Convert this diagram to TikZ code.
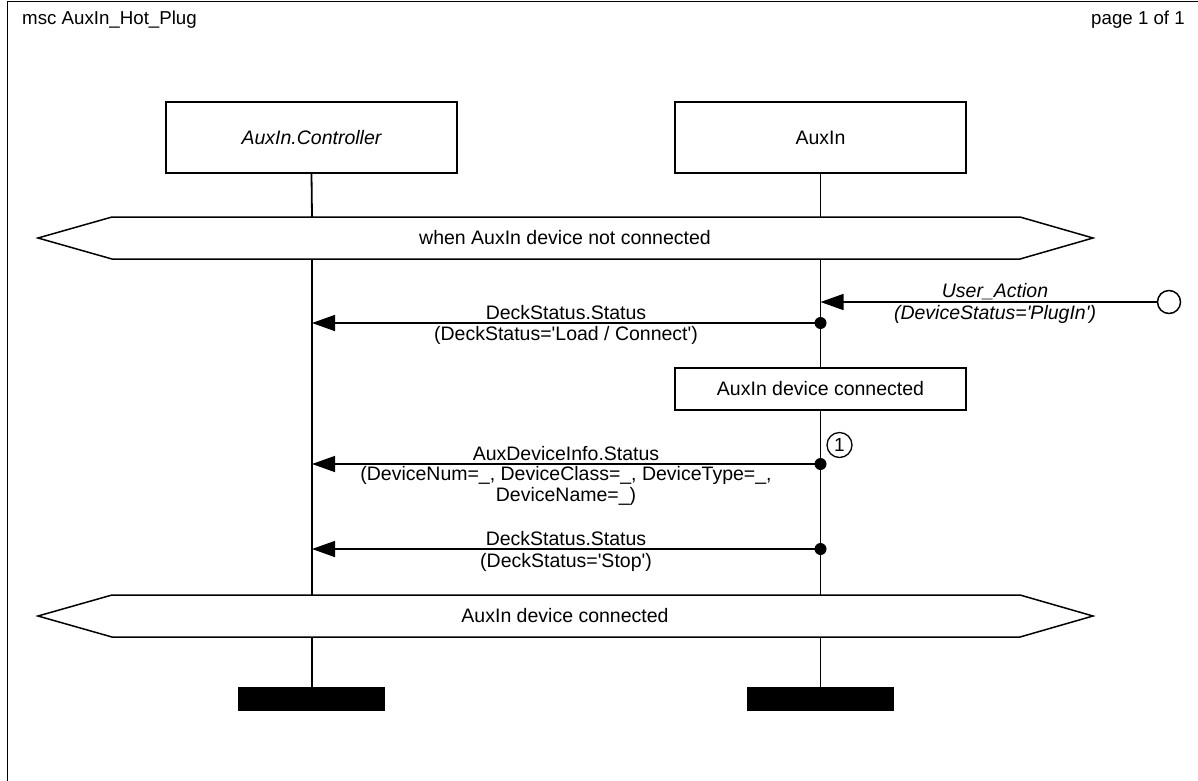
\documentclass[tikz,border=0pt]{standalone}
\usepackage{fontspec}
\setmainfont{Liberation Sans}[Ligatures=TeXOff]
\usetikzlibrary{arrows.meta}

\begin{document}
\begin{tikzpicture}[x=1pt,y=-1pt,
  txt/.style={font=\fontsize{19.5}{21}\selectfont, inner sep=0pt},
  headtxt/.style={font=\fontsize{18.7}{21}\selectfont, inner sep=0pt},
  lbl/.style={txt, align=center},
  instbox/.style={draw, line width=1.5pt, fill=white, minimum width=291pt, minimum height=71pt, inner sep=0pt, txt},
  actbox/.style={draw, line width=1.5pt, fill=white, minimum width=291pt, minimum height=42pt, inner sep=0pt, txt},
  life/.style={line width=1.8pt},
  cond/.style={draw, line width=1.5pt, fill=white, line join=miter},
  msg/.style={line width=1.5pt, -{Triangle[length=23pt, width=16pt]}},
  dotnode/.style={circle, fill=black, minimum size=12pt, inner sep=0pt},
  stopbar/.style={fill=black, minimum width=147pt, minimum height=24pt, inner sep=0pt},
]
\useasboundingbox (0,0) rectangle (1198,780);
\clip (0,0) rectangle (1198,780);

% diagram frame and heading
\draw[line width=1.6pt] (7.5,1.5) rectangle (1215,800);
\node[headtxt, anchor=west] (title) at (22,20) {msc AuxIn\_Hot\_Plug};
\node[headtxt, anchor=east] (page) at (1185,20) {page 1 of 1};

% lifeline x positions
\coordinate (L) at (312,0);
\coordinate (R) at (820.5,0);

% instance heads
\node[instbox] (ctrl) at (311.5,137.5) {\itshape AuxIn.Controller};
\node[instbox] (aux) at (820.5,137.5) {AuxIn};

% lifelines
\draw[life] (ctrl.south) -- (L |- 0,217);
\draw[life] (L |- 0,259) -- (L |- 0,595);
\draw[life] (L |- 0,637) -- (L |- 0,687);
\draw[life] (aux.south) -- (R |- 0,217);
\draw[life] (R |- 0,259) -- (R |- 0,368);
\draw[life] (R |- 0,410) -- (R |- 0,595);
\draw[life] (R |- 0,637) -- (R |- 0,687);

% first condition
\draw[cond] (38,238) -- (112,217) -- (1020,217) -- (1093,238) -- (1020,259) -- (112,259) -- cycle;
\node[txt] (c1) at (565,238) {when AuxIn device not connected};

% environment message
\node[draw, circle, line width=1.5pt, minimum size=23pt, inner sep=0pt] (env) at (1169,302) {};
\draw[msg] (env.west) -- (R |- env);
\node[lbl, font=\fontsize{19.5}{21}\selectfont\itshape] (ua1) at (995,292) {User\_Action};
\node[lbl, font=\fontsize{19.5}{21}\selectfont\itshape] (ua2) at (995,314) {(DeviceStatus='PlugIn')};

% DeckStatus Load / Connect
\node[dotnode] (d1) at (820.5,323) {};
\draw[msg] (d1.center) -- (L |- d1);
\node[lbl] (m1a) at (566,313) {DeckStatus.Status};
\node[lbl] (m1b) at (566,335) {(DeckStatus='Load / Connect')};

% action
\node[actbox] (act) at (820.5,389) {AuxIn device connected};

% AuxDeviceInfo
\node[dotnode] (d2) at (820.5,464) {};
\node[draw, circle, line width=1.3pt, minimum size=25pt, inner sep=0pt, font=\fontsize{19}{19}\selectfont] (ref1) at (839.5,445) {1};
\draw[msg] (d2.center) -- (L |- d2);
\node[lbl] (m2a) at (566,454) {AuxDeviceInfo.Status};
\node[lbl, anchor=north] (m2b) at (566,466) {(DeviceNum=\_, DeviceClass=\_, DeviceType=\_,\\DeviceName=\_)};

% DeckStatus Stop
\node[dotnode] (d3) at (820.5,549) {};
\draw[msg] (d3.center) -- (L |- d3);
\node[lbl] (m3a) at (566,539) {DeckStatus.Status};
\node[lbl] (m3b) at (566,562) {(DeckStatus='Stop')};

% final condition
\draw[cond] (38,616) -- (112,595) -- (1020,595) -- (1093,616) -- (1020,637) -- (112,637) -- cycle;
\node[txt] (c2) at (565,616) {AuxIn device connected};

% instance ends
\node[stopbar] (stopL) at (311.5,699) {};
\node[stopbar] (stopR) at (820,699) {};
\end{tikzpicture}
\end{document}
